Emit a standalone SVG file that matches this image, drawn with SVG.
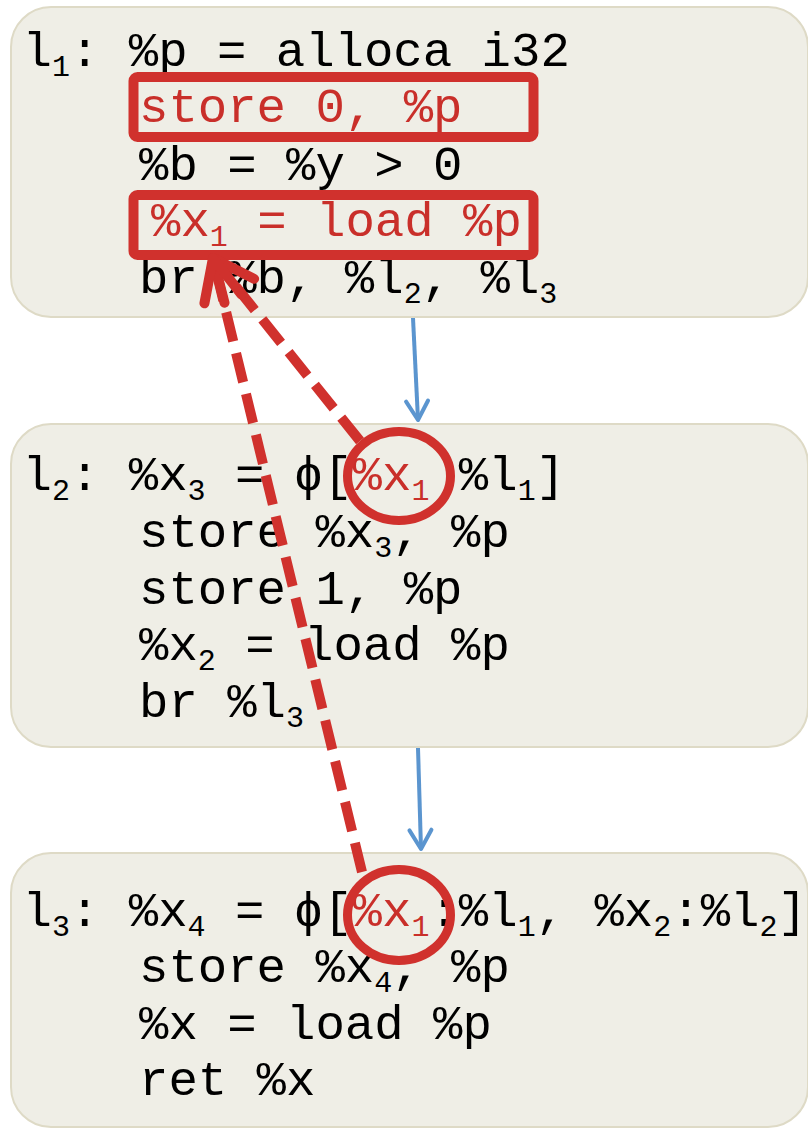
<svg xmlns="http://www.w3.org/2000/svg" width="808" height="1130" viewBox="0 0 808 1130">
  <style>
    .box { fill: #efeee6; stroke: #dedac6; stroke-width: 2; }
    .code { font-family: "Liberation Mono", "DejaVu Sans Mono", monospace; font-size: 49px; fill: #000; white-space: pre; }
    .red { fill: #c92f2a; }
    .s { font-size: 30px; }
    .hl { fill: none; stroke: #d0312d; stroke-width: 10; }
    .flow { fill: none; stroke: #5b95cf; stroke-width: 4; marker-end: url(#blueHead); }
    .dep { fill: none; stroke: #d0312d; stroke-width: 10; stroke-dasharray: 30 12; marker-end: url(#redHead); }
  </style>
  <defs>
    <marker id="blueHead" markerUnits="userSpaceOnUse" orient="auto" overflow="visible" markerWidth="1" markerHeight="1" refX="0" refY="0">
      <path d="M-19,-11 L0,0 L-19,11" fill="none" stroke="#5b95cf" stroke-width="4" stroke-linecap="round" stroke-linejoin="round"/>
    </marker>
    <marker id="redHead" markerUnits="userSpaceOnUse" orient="auto" overflow="visible" markerWidth="1" markerHeight="1" refX="0" refY="0">
      <path d="M-42,-19 L0,0 L-42,19" fill="none" stroke="#d0312d" stroke-width="10" stroke-linecap="round" stroke-linejoin="round"/>
    </marker>
  </defs>

  <g id="node-l1">
    <rect class="box" x="11" y="7" width="797" height="310" rx="40"/>
    <text class="code" x="22.5" y="66">l<tspan class="s" dy="10">1</tspan><tspan dy="-10">: %p = alloca i32</tspan></text>
    <text class="code red" x="139" y="122">store 0, %p</text>
    <text class="code" x="139" y="180">%b = %y &gt; 0</text>
    <text class="code red" x="151" y="236">%x<tspan class="s" dy="10">1</tspan><tspan dy="-10"> = load %p</tspan></text>
    <text class="code" x="139" y="293">br %b, %l<tspan class="s" dy="10">2</tspan><tspan dy="-10">, %l</tspan><tspan class="s" dy="10">3</tspan></text>
    <rect class="hl" x="133.5" y="77" width="400" height="60" rx="4"/>
    <rect class="hl" x="133.5" y="195" width="400" height="60" rx="4"/>
  </g>

  <g id="node-l2">
    <rect class="box" x="11" y="424" width="797" height="323" rx="40"/>
    <text class="code" x="22.5" y="490">l<tspan class="s" dy="10">2</tspan><tspan dy="-10">: %x</tspan><tspan class="s" dy="10">3</tspan><tspan dy="-10"> = ϕ[</tspan><tspan class="red">%x</tspan><tspan class="s red" dy="10">1</tspan><tspan dy="-10"> %l</tspan><tspan class="s" dy="10">1</tspan><tspan dy="-10">]</tspan></text>
    <text class="code" x="139" y="547">store %x<tspan class="s" dy="10">3</tspan><tspan dy="-10">, %p</tspan></text>
    <text class="code" x="139" y="604">store 1, %p</text>
    <text class="code" x="139" y="660">%x<tspan class="s" dy="10">2</tspan><tspan dy="-10"> = load %p</tspan></text>
    <text class="code" x="139" y="717">br %l<tspan class="s" dy="10">3</tspan></text>
    <ellipse class="hl" cx="399" cy="476" rx="51.5" ry="44.5" style="stroke-width:9"/>
  </g>

  <g id="node-l3">
    <rect class="box" x="11" y="853" width="797" height="274" rx="40"/>
    <text class="code" x="22.5" y="926">l<tspan class="s" dy="10">3</tspan><tspan dy="-10">: %x</tspan><tspan class="s" dy="10">4</tspan><tspan dy="-10"> = ϕ[</tspan><tspan class="red">%x</tspan><tspan class="s red" dy="10">1</tspan><tspan dy="-10">:%l</tspan><tspan class="s" dy="10">1</tspan><tspan dy="-10">, %x</tspan><tspan class="s" dy="10">2</tspan><tspan dy="-10">:%l</tspan><tspan class="s" dy="10">2</tspan><tspan dy="-10">]</tspan></text>
    <text class="code" x="139" y="982">store %x<tspan class="s" dy="10">4</tspan><tspan dy="-10">, %p</tspan></text>
    <text class="code" x="139" y="1039">%x = load %p</text>
    <text class="code" x="139" y="1095">ret %x</text>
    <ellipse class="hl" cx="399" cy="915" rx="51.5" ry="45.5" style="stroke-width:9"/>
  </g>

  <g id="connectors">
    <path class="flow" d="M413,318 L418,420"/>
    <path class="flow" d="M418,748 L421,849"/>
    <path class="dep" d="M360,441 L213,258"/>
    <path class="dep" d="M362,872 L213,258"/>
  </g>
</svg>
